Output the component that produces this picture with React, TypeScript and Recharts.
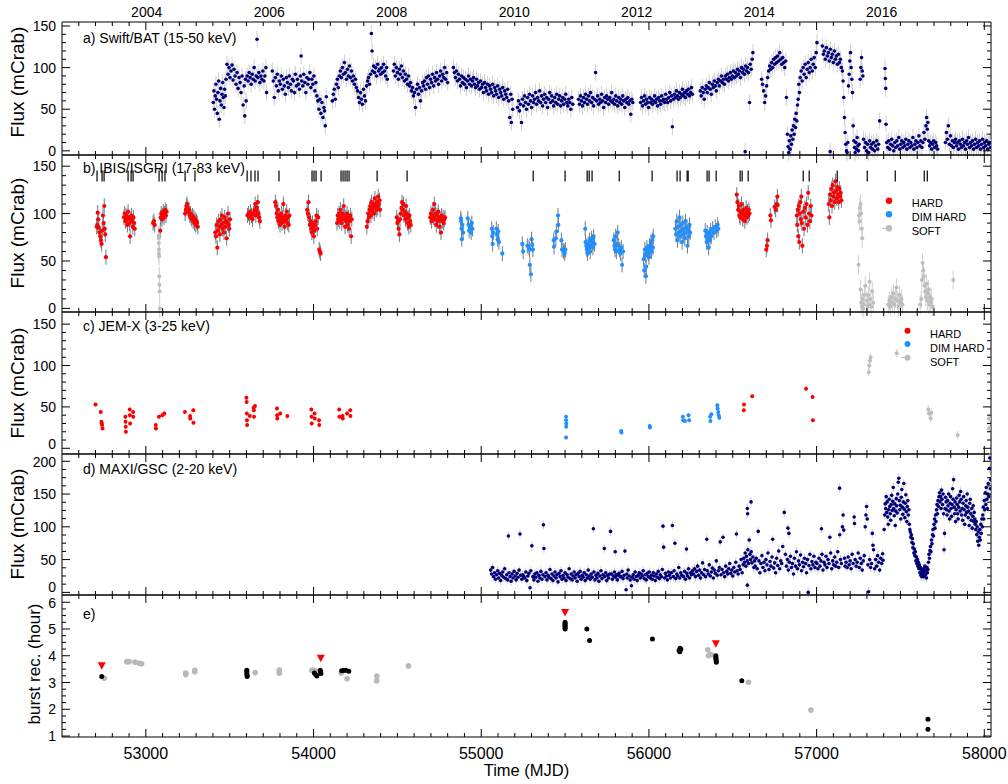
import React from 'react';
import { ScatterChart, Scatter, XAxis, YAxis, ErrorBar, ReferenceLine } from 'recharts';

const FONT = '"Liberation Sans", Arial, Helvetica, sans-serif';
const NAVY = '#00007a';
const RED = '#ff0000';
const BLUE = '#1e90ff';
const SOFT = '#bdbdbd';
const ERR_LIGHT = '#cfcfcf';
const ERR_DARK = '#6b7b8c';

// ---------- axes ----------
const X_DOMAIN: [number, number] = [52500, 58040];
const X_TICKS: number[] = [];
for (let m = 52600; m <= 58000; m += 100) X_TICKS.push(m);
const YEAR_TICKS = [53005, 53736, 54466, 55197, 55927, 56658, 57388];
const YEAR_LABELS = ['2004', '2006', '2008', '2010', '2012', '2014', '2016'];

const FLUX_TICKS_10 = [0, 10, 20, 30, 40, 50, 60, 70, 80, 90, 100, 110, 120, 130, 140, 150];
const FLUX_TICKS_D = [0, 12.5, 25, 37.5, 50, 62.5, 75, 87.5, 100, 112.5, 125, 137.5, 150, 162.5, 175, 187.5, 200];
const BURST_TICKS = [1, 1.25, 1.5, 1.75, 2, 2.25, 2.5, 2.75, 3, 3.25, 3.5, 3.75, 4, 4.25, 4.5, 4.75, 5, 5.25, 5.5, 5.75, 6];

// ---------- a) Swift/BAT (MJD, mCrab) ----------
const batData = [
  53402,58, 53406,72, 53410,50, 53414,66, 53418,80, 53422,62, 53426,45, 53430,70, 53434,84, 53438,38, 53442,60, 53446,75, 53450,55, 53454,68, 53458,82, 53462,64, 53466,52, 53470,74, 53474,66, 53478,86,
  53484,104, 53490,92, 53496,100, 53502,88, 53508,96, 53514,103, 53520,85, 53526,98, 53532,90, 53538,80, 53544,94, 53550,75, 53556,88,
  53562,82, 53568,70, 53574,90, 53580,55, 53586,78, 53590,42, 53594,86, 53598,60,
  53604,90, 53610,84, 53616,94, 53622,88, 53628,80, 53634,92, 53640,86, 53646,100, 53652,84, 53658,90, 53663,134, 53668,88, 53674,94, 53680,82, 53686,90, 53692,86, 53698,96, 53704,84, 53710,90, 53716,100, 53720,70,
  53754,96, 53760,84, 53766,64, 53772,88, 53778,78, 53784,92, 53790,72, 53796,84, 53802,80, 53808,90, 53814,74, 53820,86, 53826,78, 53832,68, 53838,88, 53844,82, 53850,76, 53856,90, 53862,80, 53868,72, 53874,86, 53880,84, 53886,70, 53892,92, 53898,78, 53904,86, 53910,80, 53916,74, 53922,90, 53926,114, 53930,84, 53936,78, 53942,92, 53948,82, 53954,70, 53960,88, 53966,80, 53972,86, 53978,94, 53984,76, 53990,86, 53996,80, 54002,90, 54008,72, 54014,82,
  54020,66, 54026,60, 54032,50, 54038,62, 54044,45, 54050,58, 54056,40, 54062,52, 54066,48, 54070,30, 54076,65,
  54112,60, 54118,68, 54124,74, 54130,62, 54136,80, 54142,86, 54148,76, 54154,90,
  54160,96, 54166,88, 54172,100, 54178,92, 54184,106, 54190,94, 54196,86, 54202,98, 54208,90, 54214,102, 54220,88, 54226,96, 54232,84, 54238,90, 54244,80, 54250,86, 54256,76,
  54262,72, 54268,64, 54274,58, 54280,70, 54286,62, 54292,56, 54298,74, 54304,66, 54310,60, 54316,78,
  54322,84, 54328,88, 54334,80, 54340,92, 54345,141, 54349,120, 54352,96, 54358,102, 54364,94, 54370,100, 54376,90, 54382,104, 54388,96, 54394,98, 54400,92, 54406,100, 54412,94, 54418,104, 54424,96, 54430,90, 54436,100, 54440,86,
  54476,96, 54482,104, 54488,90, 54494,100, 54500,94, 54506,86, 54512,98, 54518,92, 54524,102, 54530,88, 54536,96, 54542,84, 54548,92, 54554,86, 54560,80, 54566,90, 54572,78,
  54578,82, 54584,72, 54590,76, 54596,66, 54602,70, 54608,52, 54614,74, 54620,80, 54626,68, 54632,76, 54638,60, 54644,72, 54650,82,
  54656,78, 54662,84, 54668,74, 54674,88, 54680,80, 54686,90, 54692,76, 54698,86, 54704,82, 54710,92, 54716,78, 54722,88, 54728,84, 54734,94, 54740,86, 54746,80, 54752,90, 54758,96, 54764,84, 54770,92, 54776,88, 54782,100, 54788,86, 54794,94, 54800,82,
  54834,100, 54840,94, 54846,88, 54852,96, 54858,84, 54864,92, 54870,86, 54876,78, 54882,90, 54888,82, 54894,88, 54900,80, 54906,86, 54912,76, 54918,84, 54924,90, 54930,80, 54936,86, 54942,78, 54948,84,
  54954,88, 54960,80, 54966,76, 54972,86, 54978,78, 54984,82, 54990,74, 54996,84, 55002,76, 55008,80, 55014,70, 55020,82, 55026,76, 55032,72, 55038,80, 55044,68, 55050,78, 55056,74, 55062,70, 55068,80, 55074,66, 55080,76, 55086,72, 55092,68, 55098,78, 55104,64, 55110,74, 55116,70, 55122,66, 55128,76, 55134,62, 55140,72, 55146,68, 55152,64, 55158,74, 55164,60, 55170,40, 55176,68, 55180,34, 55184,62, 55188,50,
  55216,52, 55222,60, 55228,48, 55234,56, 55240,34, 55246,62, 55252,54, 55258,66, 55264,58, 55270,50, 55276,64, 55282,56, 55288,68, 55294,60, 55300,52, 55306,66, 55312,58, 55318,62, 55324,70, 55330,56, 55336,64, 55342,60, 55348,72, 55354,58, 55360,66, 55366,54, 55372,62, 55378,68, 55384,58, 55390,64, 55396,52, 55402,62, 55408,70, 55414,58, 55420,66, 55426,60, 55432,54, 55438,64, 55444,58, 55450,68, 55456,56, 55462,62, 55468,66, 55474,54, 55480,60, 55486,64, 55492,56, 55498,62, 55504,68, 55510,58, 55516,54, 55522,62, 55528,58, 55534,50, 55540,64, 55546,56,
  55580,62, 55586,56, 55592,66, 55598,60, 55604,54, 55610,64, 55616,58, 55622,68, 55628,62, 55634,56, 55640,66, 55646,60, 55652,70, 55658,58, 55664,64, 55670,54, 55676,62, 55682,94, 55688,60, 55694,66, 55700,56, 55706,62, 55712,58, 55718,68, 55724,60, 55730,52, 55736,64, 55742,58, 55748,66, 55754,62, 55760,56, 55766,64, 55772,60, 55778,70, 55784,58, 55790,62, 55796,56, 55802,66, 55808,60, 55814,54, 55820,64, 55826,58, 55832,62, 55838,56, 55844,66, 55850,60, 55856,52, 55862,62, 55868,58, 55874,64, 55880,56, 55886,60, 55892,44, 55898,62, 55904,58,
  55950,58, 55956,64, 55962,54, 55968,60, 55974,66, 55980,56, 55986,62, 55992,58, 55998,52, 56004,64, 56010,58, 56016,62, 56022,56, 56028,60, 56034,66, 56040,58, 56046,62, 56052,54, 56058,64, 56064,60, 56070,56, 56076,66, 56082,60, 56088,62, 56094,58, 56100,68, 56106,62, 56112,58, 56118,64, 56124,70, 56130,60, 56136,66, 56140,29, 56146,62, 56152,68, 56158,64, 56164,72, 56170,66, 56176,62, 56182,70, 56188,64, 56194,68, 56200,74, 56206,66, 56212,70, 56218,64, 56224,72, 56230,68, 56236,74, 56242,66, 56248,70, 56254,76, 56260,68,
  56306,72, 56312,66, 56318,76, 56324,70, 56330,62, 56336,74, 56342,78, 56348,70, 56354,76, 56360,82, 56366,74, 56372,68, 56378,80, 56384,76, 56390,84, 56396,78, 56402,72, 56408,82, 56414,86, 56420,78, 56426,84, 56432,90, 56438,82, 56444,86, 56450,80, 56456,90, 56462,86, 56468,92, 56474,84, 56480,88, 56486,94, 56492,86, 56498,90, 56504,96, 56510,88, 56516,94, 56522,90, 56528,98, 56534,92, 56540,96, 56546,88, 56552,100, 56558,94, 56564,98, 56570,92, 56574,-1, 56576,102, 56582,96, 56588,100, 56594,94, 56600,58, 56604,104, 56610,98, 56616,110, 56620,118,
  56672,86, 56678,80, 56684,72, 56690,58, 56696,66, 56702,78, 56708,88, 56714,96, 56720,102, 56726,98, 56732,106, 56738,100, 56744,110, 56750,104, 56756,112, 56762,106, 56768,114, 56774,108, 56780,118, 56786,110, 56792,104, 56798,112, 56804,106, 56810,100, 56816,108, 56820,64,
  56826,20, 56830,5, 56834,-2, 56838,12, 56842,2, 56846,18, 56850,8, 56854,25, 56858,14, 56862,30, 56866,20, 56870,38, 56874,28, 56878,45, 56882,36,
  56886,55, 56890,62, 56894,80, 56898,70, 56902,88, 56908,96, 56914,84, 56920,100, 56926,92, 56932,104, 56938,88, 56944,98, 56950,106, 56956,94, 56962,100, 56968,110, 56974,96, 56980,104, 56986,112, 56992,100, 56998,118, 57002,130,
  57034,126, 57040,116, 57046,120, 57052,110, 57058,124, 57064,114, 57070,118, 57076,108, 57081,-1, 57082,122, 57088,112, 57094,116, 57100,106, 57106,120, 57112,110, 57118,114, 57124,104, 57130,116, 57136,106, 57142,110, 57148,100, 57154,96, 57158,84,
  57162,64, 57166,40, 57170,22, 57174,8, 57178,0, 57182,-2, 57186,10,
  57190,78, 57194,92, 57198,108, 57202,118, 57206,100, 57210,86, 57214,70,
  57218,30, 57222,12, 57226,4, 57230,-2, 57234,10, 57238,2, 57242,16, 57246,6, 57250,0, 57254,8,
  57260,86, 57264,100, 57268,112, 57272,96, 57276,90,
  57280,14, 57286,4, 57292,10, 57298,0, 57304,8, 57310,-2, 57316,12, 57322,4, 57328,8, 57334,2, 57340,10, 57346,0, 57352,6, 57358,12, 57364,2, 57370,8, 57376,36,
  57408,99, 57410,87, 57412,75, 57414,32,
  57418,10, 57424,4, 57430,12, 57436,2, 57442,8, 57448,14, 57454,6, 57460,0, 57466,10, 57472,4, 57478,12, 57484,6, 57490,16, 57496,2, 57502,8, 57508,12, 57514,4, 57520,10, 57526,6, 57532,14, 57538,2, 57544,8, 57550,12, 57556,4, 57562,10, 57568,6, 57574,16, 57580,2, 57586,8, 57592,12, 57598,4, 57604,10, 57610,18, 57616,6, 57622,12, 57628,4, 57634,10, 57640,22, 57646,14, 57652,30, 57656,40, 57660,26, 57664,34, 57668,12, 57674,6, 57680,10, 57686,2, 57692,8, 57698,12, 57704,4, 57710,10, 57716,6, 57722,2,
  57768,10, 57774,22, 57780,14, 57786,30, 57792,8, 57798,18, 57804,6, 57810,12, 57816,4, 57822,10, 57828,14, 57834,6, 57840,10, 57846,2, 57852,12, 57858,8, 57864,4, 57870,14, 57876,6, 57882,10, 57888,2, 57894,12, 57900,8, 57906,16, 57912,4, 57918,10, 57924,6, 57930,12, 57936,2, 57942,8, 57948,14, 57954,4, 57960,10, 57966,6, 57972,12, 57978,2, 57984,8, 57990,14, 57996,4, 58002,10, 58008,6, 58014,12, 58020,2, 58026,8, 58032,10, 58038,4,
];

// ---------- b) IBIS/ISGRI ----------
const isgriHard = [
  52707,86, 52710,88, 52713,101, 52716,94, 52720,85, 52724,80, 52728,76, 52732,72, 52736,68, 52740,82, 52744,98, 52748,90, 52752,108, 52755,84, 52758,78, 52762,54,
  52870,96, 52874,100, 52878,92, 52882,98, 52886,94, 52890,88, 52894,102, 52898,96, 52902,90, 52906,76, 52910,94, 52914,98, 52918,92, 52922,86, 52926,96, 52930,90, 52934,84,
  53043,90, 53048,92, 53053,88, 53086,82, 53088,96, 53092,100, 53096,94, 53100,98, 53104,102, 53108,96, 53112,100, 53116,104, 53120,98, 53124,102,
  53234,100, 53238,104, 53242,108, 53246,110, 53250,106, 53254,102, 53258,104, 53262,98, 53266,100, 53270,96, 53274,94, 53278,98, 53282,92, 53286,96, 53290,90, 53294,94, 53298,88, 53302,92, 53306,90, 53310,86,
  53414,80, 53418,76, 53422,88, 53426,64, 53430,82, 53434,92, 53438,86, 53442,78, 53446,94, 53450,88, 53454,98, 53458,84, 53462,90, 53466,80, 53470,96, 53474,86, 53478,92, 53482,74, 53486,90, 53490,100, 53494,88, 53498,84, 53502,94,
  53606,98, 53612,100, 53618,96, 53624,102, 53630,98, 53636,94, 53642,100, 53648,104, 53652,110, 53656,98, 53660,106, 53664,102, 53668,112, 53672,100, 53676,96, 53680,92,
  53772,112, 53776,108, 53780,100, 53784,96, 53788,104, 53792,92, 53796,98, 53800,88, 53804,94, 53808,100, 53812,90, 53816,96, 53820,110, 53824,92, 53828,86, 53832,98, 53836,94, 53840,102, 53844,90, 53848,96, 53852,88, 53856,98,
  53962,104, 53966,100, 53970,112, 53974,96, 53978,88, 53982,92, 53986,84, 53990,80, 53994,90, 53998,86, 54002,76, 54006,82, 54010,88, 54014,92, 54018,98, 54022,84, 54028,96, 54034,62, 54038,60, 54042,58,
  54140,90, 54144,98, 54148,94, 54152,100, 54156,92, 54160,104, 54164,96, 54168,90, 54172,100, 54176,94, 54180,108, 54184,98, 54188,86, 54192,96, 54196,92, 54200,100, 54204,88, 54208,96, 54212,84, 54216,92, 54220,98, 54224,76, 54228,94,
  54318,86, 54322,92, 54326,100, 54330,96, 54334,104, 54338,108, 54342,98, 54346,112, 54350,102, 54354,106, 54358,110, 54362,100, 54366,116, 54370,108, 54374,104, 54378,112, 54382,106, 54386,118, 54390,110, 54394,114, 54397,104,
  54496,96, 54500,90, 54504,92, 54508,84, 54512,78, 54516,94, 54520,100, 54524,106, 54528,112, 54532,104, 54536,110, 54540,98, 54544,102, 54548,94, 54552,108, 54556,100, 54560,90, 54564,96, 54568,86, 54572,98, 54576,92, 54580,88,
  54696,96, 54700,100, 54704,92, 54708,98, 54712,104, 54716,96, 54720,110, 54724,94, 54728,100, 54732,88, 54736,98, 54740,92, 54744,102, 54748,96, 54752,86, 54756,94, 54760,80, 54764,98, 54768,92, 54772,96, 54776,90, 54780,94, 54784,96,
  56524,120, 56528,112, 56532,104, 56536,108, 56540,98, 56544,96, 56548,102, 56552,110, 56556,100, 56560,94, 56564,104, 56568,98, 56572,92, 56576,100, 56580,106, 56584,96, 56588,102, 56592,98, 56596,104, 56600,100,
  56700,62, 56704,66, 56708,72,
  56724,98, 56728,93, 56750,107, 56756,104, 56762,110, 56766,118, 56768,109,
  56882,98, 56885,88, 56888,104, 56891,76, 56894,108, 56897,70, 56900,100, 56903,112, 56906,94, 56909,118, 56912,90, 56915,66, 56920,102, 56925,84, 56930,106, 56935,96, 56940,110, 56945,88, 56950,122, 56955,100, 56960,92, 56965,108, 56970,98,
  57072,110, 57076,96, 57080,120, 57084,114, 57088,126, 57092,108, 57096,130, 57100,118, 57104,122, 57108,112, 57112,134, 57116,124, 57120,116, 57124,128, 57128,120, 57132,112, 57136,126, 57140,118, 57144,122, 57148,114,
];
const isgriDim = [
  54878,95, 54880,92, 54882,84, 54884,73, 54888,88, 54892,80, 54920,95, 54924,88, 54928,82, 54936,86, 54940,80, 54944,90, 54948,84,
  55063,84, 55066,76, 55068,68, 55072,80, 55090,84, 55094,78, 55098,73, 55102,81, 55106,70, 55126,58,
  55245,68, 55250,60, 55275,66, 55285,64, 55288,62, 55290,46, 55296,36, 55300,73, 55304,67, 55308,62,
  55432,72, 55434,65, 55445,74, 55448,81, 55458,98, 55460,88, 55478,72, 55482,62, 55490,61, 55494,60, 55498,58, 55502,62,
  55620,84, 55622,70, 55626,66, 55630,62, 55634,58, 55638,68, 55642,64, 55646,72, 55650,60, 55654,66, 55658,74, 55662,70, 55666,64, 55670,76, 55676,68,
  55790,72, 55794,66, 55798,62, 55802,76, 55806,60, 55810,68, 55814,80, 55820,66, 55826,62, 55830,58, 55836,64, 55840,46, 55846,60,
  55968,52, 55972,40, 55976,62, 55980,56, 55982,34, 55984,44, 55988,64, 55992,60, 55996,58, 56000,54, 56004,66, 56008,62, 56012,70, 56016,60, 56020,72, 56024,64, 56026,76,
  56158,84, 56162,78, 56166,92, 56170,72, 56174,86, 56178,80, 56182,96, 56186,76, 56190,88, 56194,82, 56198,70, 56202,90, 56206,78, 56210,84, 56214,74, 56218,92, 56222,80, 56226,86, 56230,66, 56234,82, 56238,76, 56242,88, 56246,80,
  56336,82, 56340,76, 56344,70, 56348,80, 56352,74, 56356,64, 56360,78, 56364,72, 56368,82, 56372,76, 56380,84, 56388,80, 56396,86, 56404,82, 56410,88, 56414,84,
];
const isgriSoft = [
  53076,77, 53077,74, 53077,69, 53078,62, 53078,58, 53079,55, 53080,34, 53081,25, 53082,18, 53083,0,
  57250,46, 57252,98, 57256,92, 57258,106, 57262,110, 57266,100, 57270,84, 57272,74, 57262,20, 57266,6, 57270,2, 57274,10, 57278,0, 57282,4, 57286,14, 57290,24,
  57300,8, 57304,2, 57308,14, 57312,4, 57316,28, 57320,10, 57326,2, 57332,18, 57338,6,
  57428,4, 57434,8, 57440,2, 57446,12, 57452,6, 57458,16, 57464,4, 57470,10, 57476,22, 57482,8, 57488,2, 57494,14, 57500,6, 57506,10, 57512,4,
  57618,4, 57624,10, 57628,30, 57632,48, 57636,40, 57640,34, 57644,24, 57648,18, 57652,12, 57656,26, 57660,8, 57664,16, 57668,20, 57672,4, 57676,12, 57680,6, 57686,10, 57692,2,
  57815,30,
];
const isgriBurstMarks = [
  52709, 52739, 52751, 52894, 52912, 52924, 53079, 53097, 53114, 53234, 53293, 53604, 53627, 53651, 53669, 53794,
  53991, 54003, 54015, 54045, 54164, 54176, 54188, 54200, 54212, 54379, 54558, 55310, 55500, 55632, 55644, 55661,
  55823, 56019, 56168, 56186, 56228, 56234, 56347, 56359, 56401, 56544, 56556, 56592, 56920, 56956, 57123, 57302,
  57469, 57642, 57660,
];
const BURST_MARK_LEVEL = 139.6;

// ---------- c) JEM-X ----------
const jemxHard = [
  52700,53, 52731,44, 52735,32, 52737,30, 52739,28, 52742,24,
  52878,38, 52879,32, 52880,26, 52881,20, 52904,47, 52905,40, 52906,30, 52924,44, 52925,38,
  53059,28, 53060,24, 53078,38, 53098,40, 53110,42,
  53233,44, 53264,39, 53265,36, 53283,46, 53284,31,
  53600,61, 53601,56, 53602,42, 53603,34, 53604,28, 53620,39, 53643,49, 53644,46, 53645,38, 53651,51,
  53782,48, 53783,40, 53784,36, 53801,42, 53844,39,
  53987,47, 53988,38, 53989,30, 54006,42, 54007,36, 54033,34, 54034,28,
  54153,47, 54154,38, 54173,39, 54174,36, 54200,42, 54219,46, 54220,39,
  56566,46, 56567,53, 56616,63,
  56937,72, 56976,62, 56978,34,
];
const jemxDim = [
  55506,38, 55506,34, 55507,30, 55507,26, 55506,13,
  55835,21, 55836,19, 56005,27, 56006,25,
  56202,38, 56204,34, 56215,33, 56236,40, 56240,34,
  56365,38, 56367,33, 56372,41, 56408,52, 56410,48, 56413,44, 56416,40, 56420,37,
];
const jemxSoft = [
  57311,92, 57314,100, 57318,106, 57322,110, 57478,115,
  57666,47, 57670,42, 57680,36, 57684,43, 57841,16, 58027,36, 58028,24,
];

// ---------- d) MAXI/GSC ----------
const maxiData = [
  55056,34, 55062,28, 55068,38, 55074,24, 55080,30, 55086,20, 55092,27, 55098,33, 55104,22, 55110,29, 55116,18, 55122,26, 55128,31, 55134,23, 55140,36, 55146,21, 55152,27, 55158,19, 55162,86, 55166,30, 55172,24, 55178,17, 55184,28, 55190,22, 55196,32, 55202,25, 55208,19, 55214,29, 55220,23, 55226,34, 55231,89, 55236,26, 55242,20, 55248,27, 55254,24, 55260,22, 55266,31, 55272,18, 55278,25, 55284,29, 55291,7, 55296,33, 55302,71, 55308,24, 55314,19, 55320,28, 55326,23, 55332,30, 55338,17, 55344,26, 55350,22, 55356,32, 55362,20, 55368,27, 55371,103, 55374,67, 55380,24, 55386,30, 55392,19, 55398,26, 55404,23, 55410,35, 55416,21, 55422,28, 55428,18, 55434,25, 55440,31, 55446,22, 55452,27, 55458,16, 55464,29, 55470,24, 55476,33, 55482,20, 55488,26, 55494,22, 55500,30, 55506,18, 55512,27, 55518,23, 55524,36, 55530,21, 55536,28, 55542,19, 55548,25, 55554,31, 55560,22, 55566,27, 55572,17, 55578,29, 55584,24, 55590,32, 55596,20, 55602,26, 55608,23, 55614,30, 55620,18, 55626,27, 55632,22, 55638,34, 55644,25, 55650,20, 55656,28, 55662,23, 55669,97, 55672,31, 55678,19, 55684,26, 55690,22, 55696,29, 55702,17, 55708,25, 55714,33, 55720,21, 55726,27, 55734,67, 55736,24, 55742,30, 55748,18, 55754,26, 55760,22, 55766,28, 55771,93, 55776,28, 55782,20, 55788,25, 55794,31, 55799,62, 55800,23, 55806,27, 55812,19, 55818,26, 55822,29, 55828,24, 55834,24, 55840,32, 55846,21, 55852,26, 55857,63, 55864,4, 55868,28, 55870,22, 55876,34, 55882,25, 55888,19, 55896,10, 55900,23, 55906,27, 55912,20, 55918,31, 55924,24, 55930,18, 55936,26, 55942,30, 55948,22, 55954,28, 55960,25, 55966,33, 55972,21, 55978,27, 55984,19, 55990,29, 55996,24, 56002,31, 56008,22, 56014,26, 56020,20, 56026,30, 56032,25, 56038,18, 56044,28, 56050,23, 56056,32, 56062,21, 56068,27, 56074,24, 56080,35, 56084,101, 56088,69, 56092,22, 56098,29, 56104,25, 56110,19, 56116,31, 56122,26, 56128,22, 56134,30, 56140,102, 56146,24, 56150,33, 56155,75, 56160,21, 56166,28, 56172,25, 56178,38, 56184,22, 56190,30, 56196,26, 56206,24, 56212,32, 56218,20, 56224,66, 56226,29, 56230,25, 56236,36, 56242,22, 56248,30, 56254,27, 56260,33,
  56266,28, 56272,36, 56278,24, 56284,32, 56290,40, 56296,26, 56302,34, 56308,22, 56314,30, 56320,45, 56326,27, 56332,35, 56338,24, 56345,81, 56348,33, 56354,28, 56360,42, 56366,25, 56372,31, 56378,37, 56384,22, 56390,34, 56396,29, 56402,48, 56408,26, 56414,33, 56420,38, 56425,77, 56430,27, 56436,35, 56442,84, 56446,30, 56452,24, 56458,40, 56464,32, 56470,28, 56476,36, 56482,44, 56488,29, 56494,34, 56500,25, 56506,38, 56512,31, 56518,46, 56522,89, 56526,33, 56532,28, 56538,40, 56544,35, 56550,50, 56556,30, 56562,42,
  56566,52, 56570,46, 56574,60, 56578,40, 56582,55, 56586,48, 56587,128, 56587,11, 56589,120, 56590,65, 56594,44, 56598,80, 56602,58, 56606,50, 56609,138, 56610,62, 56614,45, 56620,54, 56626,38, 56630,48,
  56634,40, 56640,52, 56646,36, 56652,93, 56656,48, 56662,30, 56668,44, 56674,56, 56680,38, 56686,46, 56692,33, 56698,50, 56704,42, 56710,60, 56716,35, 56722,47, 56728,40, 56734,54, 56738,81, 56744,37, 56750,45, 56756,30, 56762,52, 56768,41, 56774,63, 56780,36, 56786,48, 56792,44, 56798,70, 56807,122, 56814,58, 56820,40, 56826,50, 56829,98, 56832,34, 56835,90, 56838,46, 56844,55, 56850,38, 56856,44, 56862,28, 56868,52, 56874,40, 56880,62, 56886,36, 56892,48, 56898,42, 56904,57, 56910,33, 56916,46, 56922,39, 56928,52, 56934,44, 56940,30, 56946,50, 56950,0, 56954,41, 56960,58, 56966,36, 56972,47, 56978,42, 56984,55, 56990,38, 56996,46,
  57002,44, 57008,36, 57014,52, 57020,40, 57026,48, 57029,97, 57032,58, 57038,34, 57044,46, 57050,42, 57056,55, 57062,38, 57068,50, 57074,44, 57079,84, 57084,60, 57090,36, 57096,48, 57102,42, 57108,54, 57114,40, 57120,46, 57126,62, 57132,38, 57137,159, 57138,88, 57142,50, 57148,44, 57154,100, 57158,118, 57162,95, 57166,52, 57170,40,
  57176,46, 57182,38, 57188,54, 57194,42, 57200,48, 57206,36, 57212,58, 57218,44, 57224,115, 57226,105, 57230,50, 57236,40, 57242,46, 57248,60, 57254,38, 57260,52, 57266,44, 57272,34, 57278,48, 57284,56, 57290,100, 57294,118, 57298,131, 57302,112, 57306,42, 57310,1, 57316,50, 57322,38, 57328,44, 57332,90, 57336,72, 57340,65, 57346,36, 57352,50, 57358,40, 57364,56, 57370,46, 57376,34, 57382,52, 57388,44, 57394,59, 57396,49,
  57403,96, 57406,118, 57409,135, 57412,128, 57415,146, 57418,122, 57421,138, 57424,115, 57427,104, 57430,126, 57433,142, 57436,131, 57439,120, 57442,110, 57445,134, 57448,148, 57451,125, 57454,139, 57457,160, 57460,128, 57463,117, 57466,135, 57469,102, 57472,124, 57475,143, 57478,132, 57481,121, 57484,150, 57487,168, 57490,174, 57493,140, 57496,126, 57499,133, 57502,112, 57505,145, 57508,157, 57511,130, 57514,119, 57517,138, 57520,166, 57523,127, 57526,114, 57529,136, 57532,149, 57535,123, 57538,108, 57541,131, 57544,140, 57547,118, 57550,126, 57553,104, 57556,96,
  57559,92, 57562,84, 57565,88, 57568,76, 57571,82, 57574,68, 57577,74, 57580,60, 57583,66, 57586,56, 57589,62, 57592,48, 57595,54, 57598,44, 57601,50, 57604,40, 57607,46, 57610,36, 57613,42, 57616,30, 57619,38, 57622,26, 57625,34, 57628,24, 57631,30,
  57634,28, 57637,36, 57640,24, 57643,32, 57646,40, 57649,27, 57652,34, 57655,22, 57658,38, 57661,30, 57664,35,
  57667,46, 57670,58, 57673,52, 57676,64, 57679,70, 57682,62, 57685,80, 57688,74, 57691,88, 57694,96, 57697,86, 57700,104, 57703,112, 57706,98, 57709,118, 57712,108, 57715,126, 57718,134, 57721,120, 57724,140, 57727,131, 57730,146,
  57733,152, 57736,138, 57739,146, 57742,128, 57745,156, 57748,142, 57751,134, 57754,150, 57757,120, 57760,65, 57763,90, 57766,128, 57769,145, 57772,138,
  57775,126, 57778,118, 57781,140, 57784,132, 57787,150, 57790,124, 57793,112, 57796,136, 57799,146, 57802,128, 57805,116, 57808,134, 57811,158, 57814,142, 57817,172, 57820,130, 57823,120, 57826,138, 57829,108, 57832,126, 57835,144, 57838,134, 57841,120, 57844,112, 57847,130, 57850,148, 57853,138, 57856,124, 57859,154, 57862,142, 57865,118, 57868,128, 57871,110, 57874,136, 57877,146, 57880,126, 57883,104, 57886,118, 57889,132, 57892,140, 57895,122, 57898,150, 57901,130, 57904,114, 57907,124, 57910,102, 57913,136, 57916,142, 57919,120, 57922,110, 57925,128, 57928,98, 57931,116, 57934,132, 57937,108, 57940,122, 57943,112, 57946,104,
  57949,96, 57952,108, 57955,88, 57958,100, 57961,78, 57964,92, 57967,72, 57970,84, 57973,96, 57976,80, 57979,104, 57982,90, 57985,112, 57988,100,
  57991,118, 57994,130, 57997,112, 58000,140, 58003,126, 58006,152, 58009,134, 58012,160, 58015,142, 58018,128, 58021,150, 58024,166, 58027,146, 58030,189, 58033,205, 58036,158, 58039,172,
];

// ---------- e) burst recurrence (MJD, hour) ----------
const burstBlack = [
  52737,3.22, 53602,3.46, 53602,3.40, 53602,3.33, 53604,3.27, 53604,3.22,
  54005,3.36, 54012,3.30, 54020,3.24, 54040,3.46, 54042,3.40, 54044,3.34,
  54168,3.44, 54180,3.45, 54192,3.46, 54210,3.42,
  55500,5.25, 55500,5.20, 55500,5.15, 55500,5.10, 55500,5.05, 55500,5.00,
  55630,5.00, 55646,4.57, 56021,4.63,
  56180,4.20, 56184,4.15, 56186,4.28, 56190,4.24,
  56399,4.00, 56399,3.94, 56400,3.88, 56401,3.82, 56402,3.76,
  56554,3.07, 57664,1.63, 57664,1.25,
];
const burstGray = [
  52752,3.16, 52886,3.78, 52900,3.78, 52935,3.76, 52960,3.72, 52975,3.70,
  53238,3.30, 53238,3.35, 53292,3.40, 53292,3.46, 53652,3.37,
  53796,3.47, 53796,3.40, 53796,3.35, 53990,3.46, 54000,3.47, 54010,3.44,
  54165,3.36, 54200,3.14, 54377,3.24, 54377,3.06, 54566,3.62,
  56351,4.22, 56355,4.00, 56370,4.05, 56594,3.01, 56966,1.97,
];
const burstLimits = [52737,3.62, 54043,3.90, 55500,5.61, 56399,4.44];

// ---------- helpers ----------
type Row = { x: number; y: number; e: number };
function rows(flat: number[], err: number): Row[] {
  const out: Row[] = [];
  for (let i = 0; i + 1 < flat.length; i += 2) out.push({ x: flat[i], y: flat[i + 1], e: err });
  return out;
}

const dot = (fill: string, r: number) => (p: any) =>
  p.cx == null ? <g /> : <circle cx={p.cx} cy={p.cy} r={r} fill={fill} />;
const markShape = (p: any) =>
  p.cx == null ? <g /> : <line x1={p.cx} x2={p.cx} y1={p.cy - 5.5} y2={p.cy + 5.5} stroke="#000" strokeWidth={1.2} />;
const triShape = (p: any) =>
  p.cx == null ? <g /> : <path d={`M${p.cx - 4},${p.cy - 3.6}L${p.cx + 4},${p.cy - 3.6}L${p.cx},${p.cy + 3.8}Z`} fill={RED} />;

const W = 1008;
const LEFT = 62;
const RIGHT = 17;
const PLOT_W = W - LEFT - RIGHT;

type PanelProps = {
  top: number;
  height: number;
  padTop?: number;
  padBottom?: number;
  yDomain: [number, number];
  yTicks: number[];
  yNudge?: Record<number, number>;
  xLabels?: boolean;
  years?: boolean;
  children: React.ReactNode;
};

function Panel({ top, height, padTop = 2, padBottom = 2, yDomain, yTicks, yNudge = {}, xLabels = false, years = false, children }: PanelProps) {
  const ticks = years ? [...X_TICKS, ...YEAR_TICKS].sort((a, b) => a - b) : X_TICKS;
  const xTick = (p: any) => {
    const { x, y, payload } = p;
    const v = payload.value as number;
    const yi = YEAR_TICKS.indexOf(v);
    if (yi >= 0) {
      return (
        <text x={x} y={y - height - 5} textAnchor="middle" fontSize={14} fontFamily={FONT} fill="#000">
          {YEAR_LABELS[yi]}
        </text>
      );
    }
    const major = v % 1000 === 0;
    const L = major ? 8 : 4;
    return (
      <g>
        <line x1={x} x2={x} y1={y} y2={y - L} stroke="#000" strokeWidth={1} />
        <line x1={x} x2={x} y1={y - height} y2={y - height + L} stroke="#000" strokeWidth={1} />
        {xLabels && major ? (
          <text x={x} y={y + 22} textAnchor="middle" fontSize={16} fontFamily={FONT} fill="#000">
            {v}
          </text>
        ) : null}
      </g>
    );
  };
  const yTick = (p: any) => {
    const { x, y, payload } = p;
    const v = payload.value as number;
    const major = yTicks === BURST_TICKS ? Math.abs(v - Math.round(v)) < 1e-6 : v % 50 === 0;
    const L = major ? 8 : 4;
    const dy = yNudge[v] ?? 0;
    return (
      <g>
        <line x1={x} x2={x + L} y1={y} y2={y} stroke="#000" strokeWidth={1} />
        <line x1={x + PLOT_W} x2={x + PLOT_W - L} y1={y} y2={y} stroke="#000" strokeWidth={1} />
        {major ? (
          <text x={x - 6} y={y + 5 + dy} textAnchor="end" fontSize={14} fontFamily={FONT} fill="#000">
            {v}
          </text>
        ) : null}
      </g>
    );
  };
  return (
    <div style={{ position: 'absolute', left: 0, top: top - padTop }}>
      <ScatterChart
        width={W}
        height={padTop + height + padBottom}
        margin={{ top: padTop, right: RIGHT, bottom: 0, left: 0 }}
      >
        <XAxis
          type="number"
          dataKey="x"
          domain={X_DOMAIN}
          allowDataOverflow
          ticks={ticks}
          interval={0}
          tickSize={0}
          tickMargin={0}
          height={padBottom}
          tick={xTick}
          tickLine={false}
          axisLine={{ stroke: '#000', strokeWidth: 1 }}
        />
        <YAxis
          type="number"
          dataKey="y"
          domain={yDomain}
          allowDataOverflow
          ticks={yTicks}
          interval={0}
          width={LEFT}
          tickSize={0}
          tickMargin={0}
          tick={yTick}
          tickLine={false}
          axisLine={{ stroke: '#000', strokeWidth: 1 }}
        />
        <ReferenceLine y={yDomain[1]} stroke="#000" strokeWidth={1} />
        <ReferenceLine x={X_DOMAIN[1]} stroke="#000" strokeWidth={1} />
        {children}
      </ScatterChart>
    </div>
  );
}

const T = (props: any) => <text fontFamily={FONT} fill="#000" {...props} />;

export default function App() {
  const bat = rows(batData, 10);
  const iHard = rows(isgriHard, 8);
  const iDim = rows(isgriDim, 8);
  const iSoft = rows(isgriSoft, 10);
  const iMarks = isgriBurstMarks.map((m) => ({ x: m, y: BURST_MARK_LEVEL, e: 0 }));
  const jHard = rows(jemxHard, 3);
  const jDim = rows(jemxDim, 3);
  const jSoft = rows(jemxSoft, 5);
  const maxi = rows(maxiData, 7);
  const bBlack = rows(burstBlack, 0);
  const bGray = rows(burstGray, 0);
  const bLim = rows(burstLimits, 0);

  return (
    <div style={{ position: 'absolute', left: 0, top: 0, width: W, height: 784, background: '#fff', fontFamily: FONT }}>
      <style>{'.recharts-surface{overflow:visible}'}</style>

      <Panel top={22} height={133} padTop={22} yDomain={[-5, 154.8]} yTicks={FLUX_TICKS_10} years>
        {[
          <Scatter key="bat" data={bat} isAnimationActive={false} shape={dot(NAVY, 1.8)}>
            <ErrorBar dataKey="e" direction="y" width={0} stroke={ERR_LIGHT} strokeWidth={1} isAnimationActive={false} />
          </Scatter>,
        ]}
      </Panel>

      <Panel top={155} height={157} yDomain={[-3.8, 161.8]} yTicks={FLUX_TICKS_10}>
        {[
          <Scatter key="soft" data={iSoft} isAnimationActive={false} shape={dot(SOFT, 2)}>
            <ErrorBar dataKey="e" direction="y" width={0} stroke={ERR_LIGHT} strokeWidth={1} isAnimationActive={false} />
          </Scatter>,
          <Scatter key="dim" data={iDim} isAnimationActive={false} shape={dot(BLUE, 2.1)}>
            <ErrorBar dataKey="e" direction="y" width={0} stroke={ERR_DARK} strokeWidth={1} isAnimationActive={false} />
          </Scatter>,
          <Scatter key="hard" data={iHard} isAnimationActive={false} shape={dot(RED, 2.1)}>
            <ErrorBar dataKey="e" direction="y" width={0} stroke={ERR_DARK} strokeWidth={1} isAnimationActive={false} />
          </Scatter>,
          <Scatter key="marks" data={iMarks} isAnimationActive={false} shape={markShape} />,
        ]}
      </Panel>

      <Panel top={312} height={142} yDomain={[-6.9, 164.7]} yTicks={FLUX_TICKS_10} yNudge={{ 0: -4 }}>
        {[
          <Scatter key="jsoft" data={jSoft} isAnimationActive={false} shape={dot(SOFT, 2)}>
            <ErrorBar dataKey="e" direction="y" width={0} stroke={ERR_LIGHT} strokeWidth={1} isAnimationActive={false} />
          </Scatter>,
          <Scatter key="jdim" data={jDim} isAnimationActive={false} shape={dot(BLUE, 2)}>
            <ErrorBar dataKey="e" direction="y" width={0} stroke={ERR_LIGHT} strokeWidth={1} isAnimationActive={false} />
          </Scatter>,
          <Scatter key="jhard" data={jHard} isAnimationActive={false} shape={dot(RED, 2)}>
            <ErrorBar dataKey="e" direction="y" width={0} stroke={ERR_LIGHT} strokeWidth={1} isAnimationActive={false} />
          </Scatter>,
        ]}
      </Panel>

      <Panel top={454} height={141} yDomain={[-4, 211.1]} yTicks={FLUX_TICKS_D} yNudge={{ 0: -5, 200: 1 }}>
        {[
          <Scatter key="maxi" data={maxi} isAnimationActive={false} shape={dot(NAVY, 1.8)}>
            <ErrorBar dataKey="e" direction="y" width={0} stroke={ERR_LIGHT} strokeWidth={1} isAnimationActive={false} />
          </Scatter>,
        ]}
      </Panel>

      <Panel top={595} height={142} padBottom={47} yDomain={[0.964, 6.27]} yTicks={BURST_TICKS} yNudge={{ 6: 1 }} xLabels>
        {[
          <Scatter key="bgray" data={bGray} isAnimationActive={false} shape={dot('#b8b8b8', 2.8)} />,
          <Scatter key="bblack" data={bBlack} isAnimationActive={false} shape={dot('#000', 2.5)} />,
          <Scatter key="blim" data={bLim} isAnimationActive={false} shape={triShape} />,
        ]}
      </Panel>

      <svg width={W} height={784} style={{ position: 'absolute', left: 0, top: 0, pointerEvents: 'none' }}>
        <T x={83} y={43} fontSize={14}>a) Swift/BAT (15-50 keV)</T>
        <T x={83} y={173} fontSize={14}>b) IBIS/ISGRI (17-83 keV)</T>
        <T x={83} y={331} fontSize={14}>c) JEM-X (3-25 keV)</T>
        <T x={83} y={474} fontSize={14}>d) MAXI/GSC (2-20 keV)</T>
        <T x={83} y={619} fontSize={14}>e)</T>

        <T x={17} y={82} fontSize={19} textAnchor="middle" dominantBaseline="central" transform="rotate(-90 17 82)">Flux (mCrab)</T>
        <T x={17} y={233} fontSize={19} textAnchor="middle" dominantBaseline="central" transform="rotate(-90 17 233)">Flux (mCrab)</T>
        <T x={17} y={383} fontSize={19} textAnchor="middle" dominantBaseline="central" transform="rotate(-90 17 383)">Flux (mCrab)</T>
        <T x={17} y={524} fontSize={19} textAnchor="middle" dominantBaseline="central" transform="rotate(-90 17 524)">Flux (mCrab)</T>
        <T x={34} y={664} fontSize={17} textAnchor="middle" dominantBaseline="central" transform="rotate(-90 34 664)">burst rec. (hour)</T>
        <T x={526.5} y={776} fontSize={16.5} textAnchor="middle">Time (MJD)</T>

        <circle cx={889} cy={200.7} r={3.2} fill={RED} />
        <circle cx={889} cy={214.3} r={3.2} fill={BLUE} />
        <line x1={882} x2={889} y1={228.3} y2={228.3} stroke={SOFT} strokeWidth={1} />
        <circle cx={889} cy={228.3} r={3.2} fill={SOFT} />
        <T x={911.7} y={207} fontSize={11}>HARD</T>
        <T x={911.7} y={221} fontSize={11}>DIM HARD</T>
        <T x={911.7} y={235} fontSize={11}>SOFT</T>

        <circle cx={907.5} cy={330.7} r={3} fill={RED} />
        <circle cx={907.5} cy={344} r={3} fill={BLUE} />
        <line x1={901} x2={907.5} y1={357.7} y2={357.7} stroke={SOFT} strokeWidth={1} />
        <circle cx={907.5} cy={357.7} r={3} fill={SOFT} />
        <T x={930} y={338} fontSize={11}>HARD</T>
        <T x={930} y={351.7} fontSize={11}>DIM HARD</T>
        <T x={930} y={365.7} fontSize={11}>SOFT</T>
      </svg>
    </div>
  );
}
